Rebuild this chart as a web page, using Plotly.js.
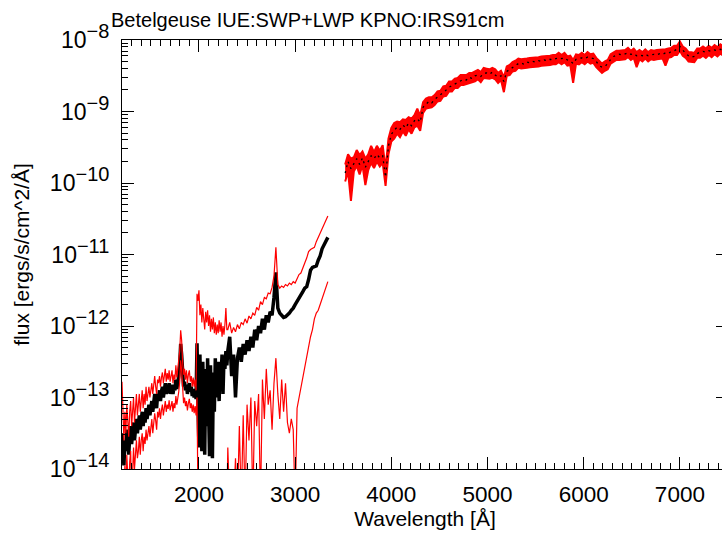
<!DOCTYPE html>
<html>
<head>
<meta charset="utf-8">
<script src="https://cdn.plot.ly/plotly-3.0.1.min.js"></script>
<style>
html,body{margin:0;padding:0;overflow:hidden;background:#fff;}
#chart{width:728px;height:533px;}
</style>
</head>
<body>
<div id="chart"></div>
<script>
// IUE (SWP+LWP) ultraviolet segment: wavelength [Å]
const wavelengthUV = [1200,1210,1220,1230,1240,1250,1260,1270,1280,1290,1300,1310,1320,1330,1340,1350,1360,1370,1380,1390,1400,1410,1420,1430,1440,1450,1460,1470,1480,1490,1500,1510,1520,1530,1540,1550,1560,1570,1580,1590,1600,1610,1620,1630,1640,1650,1660,1670,1680,1690,1700,1710,1720,1730,1740,1750,1760,1770,1780,1790,1800,1810,1820,1830,1840,1850,1860,1870,1880,1890,1900,1910,1920,1930,1940,1950,1960,1970,
1980,1990,2000,2010,2020,2030,2040,2050,2060,2070,2080,2090,2100,2110,2120,2130,2140,2150,2160,2170,2180,2190,2200,2210,2220,2230,2240,2250,2260,2270,2280,2290,
2300,2320,2340,2360,2380,2400,2420,2440,2460,2480,2500,2520,2540,2560,2580,2600,2620,2640,2660,2680,2700,2720,2740,2760,2780,2800,2820,2840,2860,2880,2900,2920,2940,2960,2980,3000,3020,3040,3060,3080,3100,3120,3140,3160,3180,3200,3220,3240,3260,3280,3300,3320,3340];
// log10 flux [ergs/s/cm^2/Å]
const logFluxUV = [-13.50,-13.85,-13.95,-13.60,-13.75,-13.45,-13.70,-13.80,-13.55,-13.40,-13.65,-13.50,-13.35,-13.60,-13.45,-13.30,-13.50,-13.40,-13.25,-13.45,-13.30,-13.20,-13.40,-13.25,-13.35,-13.15,-13.30,-13.20,-13.10,-13.25,-13.15,-13.05,-13.20,-13.10,-12.95,-13.05,-13.15,-12.95,-13.00,-12.90,-13.05,-12.92,-12.85,-13.00,-12.90,-12.80,-12.95,-12.85,-12.92,-12.80,-12.95,-12.88,-12.82,-12.95,-12.85,-12.90,-12.75,-12.88,-12.80,-12.70,-12.55,-12.25,-12.40,-12.70,-12.85,-12.78,-12.90,-12.82,-12.95,-12.85,-12.80,-12.92,-12.85,-12.98,-12.88,-13.00,-12.90,-13.02,
-12.24,-13.10,-13.70,-12.40,-12.95,-13.75,-12.50,-13.30,-13.80,-12.60,-13.40,-12.45,-13.10,-13.82,-12.55,-13.70,-13.85,-12.65,-13.20,-12.45,-13.00,-12.50,-12.85,-13.05,-12.50,-12.70,-12.40,-12.95,-12.45,-12.60,-12.35,-12.55,
-12.35,-12.15,-12.70,-12.40,-13.00,-12.45,-12.30,-12.50,-12.25,-12.40,-12.20,-12.35,-12.15,-12.30,-12.05,-12.20,-12.00,-12.10,-11.90,-12.05,-11.85,-11.95,-11.80,-11.85,-11.60,-11.25,-11.75,-11.82,-11.85,-11.88,-11.87,-11.85,-11.82,-11.78,-11.75,-11.70,-11.66,-11.62,-11.58,-11.52,-11.47,-11.45,-11.35,-11.22,-11.18,-11.17,-11.16,-11.08,-11.02,-10.92,-10.86,-10.80,-10.76];
const logUpperUV = [-12.78,-13.30,-13.60,-13.20,-13.50,-13.10,-13.45,-13.55,-13.20,-13.05,-13.40,-13.15,-13.00,-13.35,-13.10,-12.95,-13.25,-13.05,-12.95,-13.20,-13.00,-12.90,-13.15,-12.95,-13.10,-12.85,-13.05,-12.95,-12.85,-13.00,-12.90,-12.80,-12.95,-12.85,-12.70,-12.85,-12.95,-12.75,-12.80,-12.70,-12.85,-12.72,-12.65,-12.80,-12.70,-12.60,-12.78,-12.66,-12.75,-12.62,-12.78,-12.70,-12.62,-12.80,-12.68,-12.75,-12.55,-12.72,-12.60,-12.50,-12.35,-12.06,-12.20,-12.50,-12.68,-12.60,-12.75,-12.62,-12.80,-12.68,-12.62,-12.78,-12.70,-12.85,-12.72,-12.85,-12.75,-12.90,
-11.55,-11.65,-11.50,-11.85,-11.70,-11.95,-11.75,-11.90,-12.05,-11.80,-11.95,-11.78,-12.00,-11.85,-12.08,-11.90,-12.05,-11.88,-12.10,-11.95,-12.12,-11.98,-12.10,-11.92,-12.08,-11.95,-12.15,-12.00,-12.12,-11.98,-11.75,-12.05,
-12.05,-11.95,-12.10,-12.02,-12.08,-11.98,-12.04,-11.95,-11.98,-11.90,-11.96,-11.86,-11.90,-11.82,-11.85,-11.74,-11.78,-11.66,-11.70,-11.60,-11.62,-11.54,-11.55,-11.46,-11.30,-10.90,-11.42,-11.47,-11.44,-11.46,-11.42,-11.44,-11.40,-11.42,-11.38,-11.40,-11.33,-11.28,-11.26,-11.20,-11.12,-11.05,-10.96,-10.93,-10.92,-10.90,-10.82,-10.76,-10.72,-10.65,-10.58,-10.52,-10.46];
const logLowerUV = [-14.20,-14.40,-14.40,-13.95,-14.30,-13.80,-14.05,-14.40,-13.90,-13.75,-14.40,-13.85,-13.70,-14.00,-13.80,-13.60,-13.85,-13.75,-13.55,-13.80,-13.60,-13.50,-13.75,-13.55,-13.65,-13.45,-13.60,-13.50,-13.40,-13.55,-13.45,-13.30,-13.50,-13.38,-13.22,-13.32,-13.45,-13.20,-13.28,-13.15,-13.30,-13.18,-13.10,-13.25,-13.15,-13.05,-13.20,-13.10,-13.16,-13.04,-13.18,-13.10,-13.05,-13.20,-13.08,-13.15,-12.98,-13.10,-13.02,-12.92,-12.78,-12.48,-12.62,-12.92,-13.08,-13.00,-13.12,-13.05,-13.18,-13.08,-13.02,-13.15,-13.08,-13.20,-13.10,-13.22,-13.12,-13.25,
-13.00,-14.50,-14.50,-14.50,-14.50,-14.50,-14.50,-14.50,-14.50,-14.50,-14.50,-14.50,-14.50,-14.50,-14.50,-14.50,-14.50,-14.50,-14.50,-14.50,-14.50,-14.50,-14.50,-14.50,-14.50,-14.50,-14.50,-14.50,-14.50,-14.50,-14.50,-14.50,
-13.70,-14.50,-14.50,-14.50,-13.85,-14.50,-13.40,-14.50,-13.25,-14.50,-13.10,-13.60,-13.00,-14.50,-13.05,-13.40,-12.95,-14.50,-12.75,-13.30,-12.60,-13.10,-12.90,-13.45,-12.80,-12.45,-12.95,-13.30,-12.75,-13.20,-12.80,-13.35,-13.50,-13.30,-13.45,-14.50,-13.15,-13.00,-12.85,-12.70,-12.55,-12.45,-12.25,-12.15,-12.05,-11.90,-11.82,-11.78,-11.70,-11.62,-11.52,-11.45,-11.38];

// KPNO optical segment: wavelength [Å]
const wavelengthOpt = [3520,3550,3580,3610,3640,3670,3700,3730,3760,3790,3820,3850,3880,3910,3940,3970,4000,4030,4060,4090,4120,4150,4180,4210,4240,4270,4300,4330,4360,4390,4420,4450,4480,4510,4540,4570,4600,4630,4660,4690,4720,4750,4780,4810,4840,4870,4900,4930,4960,4990,5020,5050,5080,5110,5140,5170,5200,5230,5260,5290,5320,5350,5380,5410,5440,5470,5500,5530,5560,5590,5620,5650,5680,5710,5740,5770,5800,5830,5860,5890,5920,5950,5980,6010,6040,6070,6100,6130,6160,6190,6220,6250,6280,6310,6340,6370,6400,6430,6460,6490,6520,6550,6580,6610,6640,6670,6700,6730,6760,6790,6820,6850,6880,6910,6940,6970,7000,7030,7060,7090,7120,7150,7180,7210,7240,7270,7300,7330,7360,7390,7420,7450,7480];
const logFluxOpt = [-9.86,-9.70,-9.80,-9.72,-9.66,-9.74,-9.65,-9.78,-9.70,-9.62,-9.66,-9.60,-9.65,-9.62,-9.92,-9.48,-9.32,-9.26,-9.22,-9.25,-9.19,-9.23,-9.16,-9.20,-9.13,-9.10,-9.15,-8.94,-8.90,-8.86,-8.88,-8.83,-8.80,-8.77,-8.73,-8.70,-8.66,-8.64,-8.61,-8.59,-8.57,-8.55,-8.56,-8.52,-8.54,-8.50,-8.49,-8.51,-8.47,-8.46,-8.48,-8.45,-8.49,-8.52,-8.50,-8.58,-8.44,-8.41,-8.38,-8.35,-8.33,-8.32,-8.34,-8.31,-8.32,-8.30,-8.31,-8.29,-8.30,-8.28,-8.29,-8.27,-8.28,-8.26,-8.25,-8.26,-8.25,-8.28,-8.29,-8.33,-8.27,-8.26,-8.25,-8.26,-8.24,-8.25,-8.26,-8.30,-8.36,-8.38,-8.37,-8.33,-8.27,-8.23,-8.22,-8.20,-8.21,-8.19,-8.18,-8.20,-8.19,-8.22,-8.21,-8.22,-8.20,-8.22,-8.21,-8.20,-8.21,-8.19,-8.20,-8.18,-8.19,-8.16,-8.15,-8.13,-8.09,-8.14,-8.19,-8.22,-8.24,-8.23,-8.19,-8.17,-8.16,-8.17,-8.15,-8.16,-8.14,-8.15,-8.13,-8.14,-8.12];
const logUpperOpt = [-9.74,-9.60,-9.66,-9.64,-9.54,-9.61,-9.56,-9.66,-9.60,-9.48,-9.57,-9.48,-9.55,-9.47,-9.80,-9.38,-9.23,-9.16,-9.14,-9.15,-9.11,-9.12,-9.08,-9.10,-9.05,-8.96,-9.06,-8.87,-8.82,-8.80,-8.80,-8.77,-8.72,-8.71,-8.65,-8.64,-8.58,-8.58,-8.54,-8.53,-8.49,-8.49,-8.49,-8.46,-8.46,-8.44,-8.42,-8.45,-8.39,-8.40,-8.41,-8.39,-8.41,-8.46,-8.43,-8.52,-8.37,-8.35,-8.31,-8.29,-8.26,-8.27,-8.27,-8.26,-8.25,-8.25,-8.24,-8.24,-8.23,-8.23,-8.22,-8.22,-8.21,-8.21,-8.18,-8.21,-8.18,-8.23,-8.22,-8.28,-8.20,-8.21,-8.18,-8.21,-8.17,-8.20,-8.19,-8.25,-8.29,-8.33,-8.30,-8.28,-8.20,-8.18,-8.15,-8.15,-8.14,-8.14,-8.11,-8.15,-8.12,-8.17,-8.14,-8.17,-8.13,-8.17,-8.14,-8.15,-8.14,-8.14,-8.13,-8.13,-8.12,-8.11,-8.08,-8.08,-8.02,-8.09,-8.12,-8.17,-8.17,-8.18,-8.12,-8.12,-8.09,-8.12,-8.08,-8.11,-8.07,-8.10,-8.06,-8.09,-8.05];
const logLowerOpt = [-9.98,-9.84,-10.25,-9.84,-9.76,-9.88,-9.75,-10.03,-9.82,-9.72,-9.79,-9.70,-9.77,-9.72,-10.04,-9.60,-9.42,-9.38,-9.31,-9.36,-9.28,-9.34,-9.25,-9.31,-9.22,-9.20,-9.27,-9.02,-8.96,-8.95,-8.94,-8.91,-8.86,-8.85,-8.79,-8.78,-8.72,-8.72,-8.67,-8.67,-8.63,-8.63,-8.62,-8.60,-8.60,-8.58,-8.55,-8.59,-8.53,-8.54,-8.54,-8.53,-8.55,-8.60,-8.56,-8.73,-8.50,-8.49,-8.44,-8.43,-8.39,-8.40,-8.40,-8.39,-8.38,-8.38,-8.37,-8.37,-8.36,-8.36,-8.35,-8.35,-8.34,-8.34,-8.31,-8.34,-8.31,-8.36,-8.35,-8.60,-8.33,-8.34,-8.31,-8.34,-8.30,-8.33,-8.32,-8.38,-8.42,-8.46,-8.43,-8.41,-8.33,-8.31,-8.28,-8.28,-8.27,-8.27,-8.24,-8.28,-8.25,-8.38,-8.27,-8.30,-8.26,-8.30,-8.27,-8.28,-8.27,-8.27,-8.26,-8.36,-8.25,-8.24,-8.21,-8.21,-8.15,-8.22,-8.25,-8.30,-8.30,-8.31,-8.25,-8.25,-8.22,-8.25,-8.21,-8.24,-8.20,-8.23,-8.19,-8.22,-8.18];

const yDecades = [-14,-13,-12,-11,-10,-9,-8];
const yTickText = yDecades.map(d => '10<sup><span style="font-size:20px">\u2212' + Math.abs(d) + '</span></sup>');

const pow10 = arr => arr.map(v => Math.pow(10, v));
const yTickVals = yDecades.map(d => Math.pow(10, d));
const yMinor = [];
yDecades.slice(0, -1).forEach(d => { for (let k = 2; k <= 9; k++) yMinor.push(k * Math.pow(10, d)); });

const FONT = 'Liberation Sans, Arial, sans-serif';

const traces = [
  {x: wavelengthUV, y: pow10(logFluxUV), mode: 'lines', line: {color: '#000000', width: 3.5}, hoverinfo: 'skip'},
  {x: wavelengthUV, y: pow10(logUpperUV), mode: 'lines', line: {color: '#ff0000', width: 1.2}, hoverinfo: 'skip'},
  {x: wavelengthUV, y: pow10(logLowerUV), mode: 'lines', line: {color: '#ff0000', width: 1.2}, hoverinfo: 'skip'},
  {x: wavelengthOpt, y: pow10(logUpperOpt), mode: 'lines', line: {color: '#ff0000', width: 2}, hoverinfo: 'skip'},
  {x: wavelengthOpt, y: pow10(logLowerOpt), mode: 'lines', line: {color: '#ff0000', width: 2}, fill: 'tonexty', fillcolor: '#ff0000', hoverinfo: 'skip'},
  {x: wavelengthOpt, y: pow10(logFluxOpt), mode: 'lines', line: {color: '#000000', width: 1.3, dash: '2px,4px'}, hoverinfo: 'skip'}
];

const layout = {
  width: 728, height: 533,
  margin: {l: 122, r: 0, t: 40, b: 64},
  paper_bgcolor: '#ffffff', plot_bgcolor: '#ffffff',
  showlegend: false,
  font: {family: FONT, color: '#000000', size: 20},
  annotations: [{
    text: 'Betelgeuse IUE:SWP+LWP KPNO:IRS91cm', showarrow: false,
    xref: 'paper', yref: 'paper', x: (307 - 122) / 606, y: 1 + 20 / 429,
    xanchor: 'center', yanchor: 'middle',
    font: {family: FONT, size: 20, color: '#000'}
  }],
  xaxis: {
    range: [1200, 7500], tickmode: 'linear', tick0: 0, dtick: 1000,
    ticks: 'inside', ticklen: 12, tickwidth: 1, tickcolor: '#000',
    minor: {ticks: 'inside', dtick: 100, tick0: 0, ticklen: 6, tickwidth: 1, tickcolor: '#000', showgrid: false},
    showline: true, linecolor: '#000', linewidth: 1, mirror: 'ticks',
    showgrid: false, zeroline: false,
    tickfont: {family: FONT, size: 22.5},
    ticklabelstandoff: 5,
    title: {text: 'Wavelength [Å]', font: {family: FONT, size: 21}, standoff: 2}
  },
  yaxis: {
    type: 'log', range: [-14, -8],
    tickmode: 'array', tickvals: yTickVals, ticktext: yTickText,
    ticks: 'inside', ticklen: 12, tickwidth: 1, tickcolor: '#000',
    minor: {ticks: 'inside', tickmode: 'array', tickvals: yMinor, ticklen: 6, tickwidth: 1, tickcolor: '#000', showgrid: false},
    showline: true, linecolor: '#000', linewidth: 1, mirror: 'ticks',
    showgrid: false, zeroline: false,
    tickfont: {family: FONT, size: 23},
    ticklabelstandoff: 7,
    title: {text: 'flux [ergs/s/cm^2/Å]', font: {family: FONT, size: 21}, standoff: 14}
  }
};

Plotly.newPlot('chart', traces, layout, {displayModeBar: false, staticPlot: true});
</script>
</body>
</html>
